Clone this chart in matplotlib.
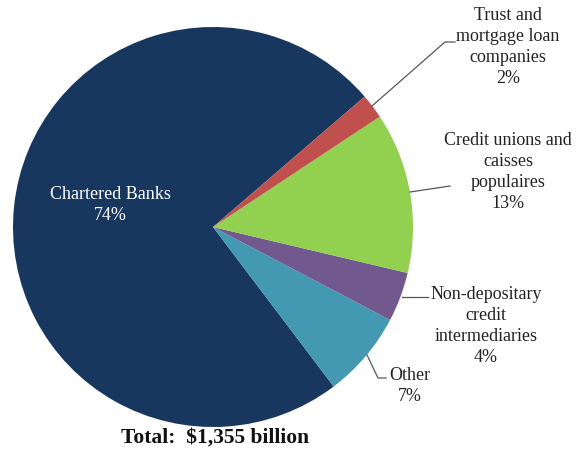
import matplotlib
matplotlib.use("Agg")
import matplotlib.pyplot as plt

categories = ["Chartered Banks", "Other", "Non-depositary\ncredit\nintermediaries",
              "Credit unions and\ncaisses\npopulaires", "Trust and\nmortgage loan\ncompanies"]
values = [74, 7, 4, 13, 2]
colors = ["#17375E", "#4399B1", "#71598F", "#92D050", "#C0504D"]
total_label = "Total:  $1,355 billion"

W, H = 576, 453
fig = plt.figure(figsize=(W / 100, H / 100), dpi=100)
ax = fig.add_axes([0, 0, 1, 1])

cx, cy, r = 213, H - 227, 200
wedges, _ = ax.pie(values, colors=colors, startangle=40.7, counterclock=True,
                   center=(cx, cy), radius=r, frame=True,
                   wedgeprops=dict(linewidth=0))
ax.set_xlim(0, W)
ax.set_ylim(0, H)
ax.set_aspect("equal")
ax.axis("off")

font = dict(family=["Liberation Serif", "DejaVu Serif"], fontsize=13, linespacing=1.33)

def y(p):
    return H - p

# Chartered Banks inside label
ax.text(110, y(205), f"{categories[0]}\n{values[0]}%", color="white", ha="center", va="center", **font)

# Trust
ax.text(508, y(47), f"{categories[4]}\n{values[4]}%", color="#222222", ha="center", va="center", **font)
ax.plot([372, 445, 455], [y(106), y(42), y(42)], color="#555555", lw=0.9)

# Credit unions
ax.text(508, y(172), f"{categories[3]}\n{values[3]}%", color="#222222", ha="center", va="center", **font)
ax.plot([410, 450], [y(192), y(186)], color="#555555", lw=0.9)

# Non-depositary
ax.text(486, y(326), f"{categories[2]}\n{values[2]}%", color="#222222", ha="center", va="center", **font)
ax.plot([402, 428], [y(297), y(297)], color="#555555", lw=0.9)

# Other
ax.text(410, y(386), f"{categories[1]}\n{values[1]}%", color="#222222", ha="center", va="center", **font)
ax.plot([367, 378, 386], [y(355), y(378), y(378)], color="#555555", lw=0.9)

ax.text(215, y(438), total_label, ha="center", va="center", fontweight="bold",
        family=["Liberation Serif", "DejaVu Serif"], fontsize=15.5, color="#111111")

fig.savefig("out.png", dpi=100)
